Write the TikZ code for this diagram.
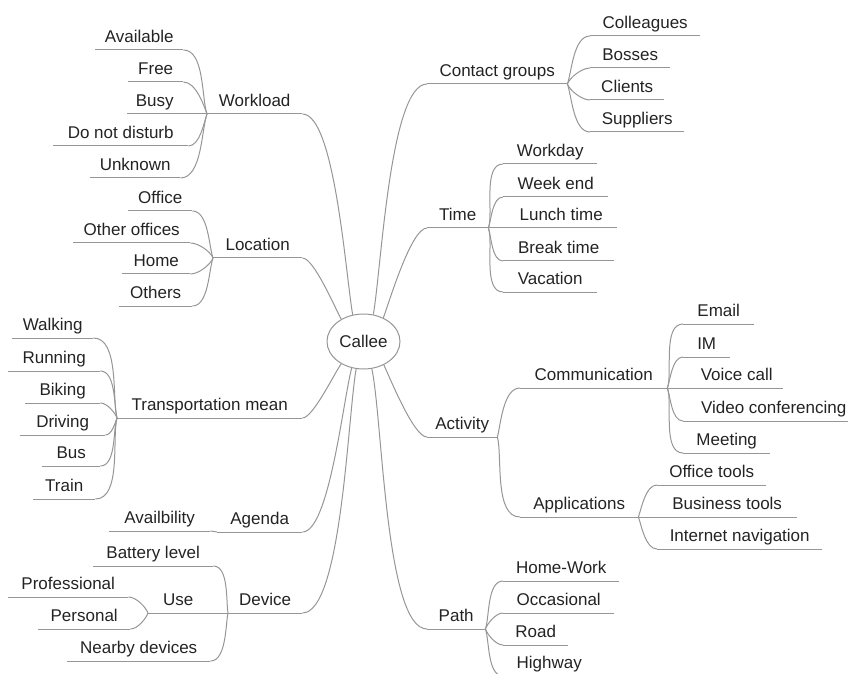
\documentclass[tikz,border=0pt]{standalone}
\usepackage{fontspec}
\setmainfont{Liberation Sans}
\usepackage{tikz}
\usetikzlibrary{shapes.geometric, positioning, calc}
\definecolor{colorLine}{RGB}{150, 150, 150}
\definecolor{colorText}{RGB}{35, 35, 35}
\tikzstyle{root} = [ellipse, draw=colorLine, line width=1pt, minimum width=73pt, minimum height=55pt, inner sep=0pt, text=colorText]
\tikzstyle{topic} = [anchor=south west, inner xsep=0pt, inner ysep=7pt, text depth=0pt, text=colorText]
\tikzstyle{underline} = [draw=colorLine, line width=1pt]
\tikzstyle{branch} = [draw=colorLine, line width=1pt, out looseness=0.5, in looseness=0.4]
\tikzstyle{twig} = [draw=colorLine, line width=1pt, out looseness=0.6, in looseness=0.8]

\begin{document}
\begin{tikzpicture}[x=1pt, y=1pt, font=\fontsize{17}{20}\selectfont]

		\useasboundingbox (0,0) rectangle (848,673);
		\clip (0,0) rectangle (848,673);

		% root
		\node (callee)[root] at (363.5,331.5) {Callee};

		% workload
		\node (workload)[topic, minimum width=95pt] at (207,559) {Workload};
		\node (available)[topic, minimum width=88pt] at (95,623) {Available};
		\node (free)[topic, minimum width=55pt] at (128,591) {Free};
		\node (busy)[topic, minimum width=55pt] at (127,559) {Busy};
		\node (dnd)[topic, minimum width=135pt] at (53,527) {Do not disturb};
		\node (unknown)[topic, minimum width=90pt] at (90,495) {Unknown};

		% location
		\node (location)[topic, minimum width=89pt] at (213,415) {Location};
		\node (office)[topic, minimum width=64pt] at (128,462) {Office};
		\node (otherOffices)[topic, minimum width=117pt] at (73,430) {Other offices};
		\node (home)[topic, minimum width=68pt] at (122,399) {Home};
		\node (others)[topic, minimum width=73pt] at (119,367) {Others};

		% transportation mean
		\node (transport)[topic, minimum width=185pt] at (117,255) {Transportation mean};
		\node (walking)[topic, minimum width=81pt] at (12,335) {Walking};
		\node (running)[topic, minimum width=92pt] at (8,302) {Running};
		\node (biking)[topic, minimum width=75pt] at (25,270) {Biking};
		\node (driving)[topic, minimum width=85pt] at (20,238) {Driving};
		\node (bus)[topic, minimum width=58pt] at (42,207) {Bus};
		\node (train)[topic, minimum width=62pt] at (33,174) {Train};

		% agenda
		\node (agenda)[topic, minimum width=85pt] at (217,141) {Agenda};
		\node (availbility)[topic, minimum width=101pt] at (109,142) {Availbility};

		% device
		\node (device)[topic, minimum width=74pt] at (228,60) {Device};
		\node (battery)[topic, minimum width=120pt] at (93,107) {Battery level};
		\node (use)[topic, minimum width=60pt] at (148,60) {Use};
		\node (professional)[topic, minimum width=120pt] at (8,76) {Professional};
		\node (personal)[topic, minimum width=92pt] at (38,44) {Personal};
		\node (nearby)[topic, minimum width=143pt] at (67,12) {Nearby devices};

		% contact groups
		\node (contact)[topic, minimum width=140pt] at (427,589) {Contact groups};
		\node (colleagues)[topic, minimum width=110pt] at (590,637) {Colleagues};
		\node (bosses)[topic, minimum width=80pt] at (590,605) {Bosses};
		\node (clients)[topic, minimum width=74pt] at (590,573) {Clients};
		\node (suppliers)[topic, minimum width=94pt] at (590,541) {Suppliers};

		% time
		\node (time)[topic, minimum width=61pt] at (427,445) {Time};
		\node (workday)[topic, minimum width=94pt] at (503,509) {Workday};
		\node (weekend)[topic, minimum width=105pt] at (503,476) {Week end};
		\node (lunch)[topic, minimum width=112pt] at (505,445) {Lunch time};
		\node (breakTime)[topic, minimum width=111pt] at (503,412) {Break time};
		\node (vacation)[topic, minimum width=94pt] at (503,381) {Vacation};

		% activity
		\node (activity)[topic, minimum width=70pt] at (427,236) {Activity};
		\node (communication)[topic, minimum width=147pt] at (520,285) {Communication};
		\node (email)[topic, minimum width=71pt] at (683,349) {Email};
		\node (im)[topic, minimum width=47pt] at (683,316) {IM};
		\node (voice)[topic, minimum width=93pt] at (690,285) {Voice call};
		\node (video)[topic, minimum width=181pt] at (683,252) {Video conferencing};
		\node (meeting)[topic, minimum width=87pt] at (683,220) {Meeting};
		\node (applications)[topic, minimum width=118pt] at (520,156) {Applications};
		\node (officeTools)[topic, minimum width=109pt] at (657,188) {Office tools};
		\node (business)[topic, minimum width=140pt] at (657,156) {Business tools};
		\node (internet)[topic, minimum width=165pt] at (657,124) {Internet navigation};

		% path
		\node (travelPath)[topic, minimum width=58pt] at (427,44) {Path};
		\node (homeWork)[topic, minimum width=116pt] at (503,92) {Home-Work};
		\node (occasional)[topic, minimum width=111pt] at (503,60) {Occasional};
		\node (road)[topic, minimum width=65pt] at (503,28) {Road};
		\node (highway)[topic, minimum width=92pt] at (503,-3) {Highway};

		% underlines
		\foreach \n in {workload, available, free, busy, dnd, unknown, location, office, otherOffices, home, others, transport, walking, running, biking, driving, bus, train, agenda, availbility, device, battery, use, professional, personal, nearby, contact, colleagues, bosses, clients, suppliers, time, workday, weekend, lunch, breakTime, vacation, activity, communication, email, im, voice, video, meeting, applications, officeTools, business, internet, travelPath, homeWork, occasional, road, highway}
			\draw[underline] (\n.south west) -- (\n.south east);

		% main branches
		\draw[branch] (callee.112) to[out=100, in=0] (workload.south east);
		\draw[branch] (callee.135) to[out=118, in=0] (location.south east);
		\draw[branch] (callee.225) to[out=235, in=0] (transport.south east);
		\draw[branch] (callee.246) to[out=255, in=0] (agenda.south east);
		\draw[branch] (callee.255) to[out=260, in=0] (device.south east);
		\draw[branch] (callee.70) to[out=80, in=180] (contact.south west);
		\draw[branch] (callee.50) to[out=70, in=180] (time.south west);
		\draw[branch] (callee.311) to[out=295, in=180] (activity.south west);
		\draw[branch] (callee.287) to[out=282, in=180] (travelPath.south west);

		% workload
		\draw[twig] (workload.south west) to[out=110, in=0] (available.south east);
		\draw[twig] (workload.south west) to[out=110, in=0] (free.south east);
		\draw[twig] (workload.south west) -- (busy.south east);
		\draw[twig] (workload.south west) to[out=250, in=0] (dnd.south east);
		\draw[twig] (workload.south west) to[out=250, in=0] (unknown.south east);

		% location
		\draw[twig] (location.south west) to[out=110, in=0] (office.south east);
		\draw[twig] (location.south west) to[out=110, in=0] (otherOffices.south east);
		\draw[twig] (location.south west) to[out=250, in=0] (home.south east);
		\draw[twig] (location.south west) to[out=250, in=0] (others.south east);

		% transportation mean
		\draw[twig] (transport.south west) to[out=105, in=0] (walking.south east);
		\draw[twig] (transport.south west) to[out=105, in=0] (running.south east);
		\draw[twig] (transport.south west) to[out=110, in=0] (biking.south east);
		\draw[twig] (transport.south west) to[out=250, in=0] (driving.south east);
		\draw[twig] (transport.south west) to[out=250, in=0] (bus.south east);
		\draw[twig] (transport.south west) to[out=255, in=0] (train.south east);

		% agenda, device
		\draw[twig] (agenda.south west) to[out=180, in=0] (availbility.south east);
		\draw[twig] (device.south west) to[out=100, in=0] (battery.south east);
		\draw[twig] (device.south west) -- (use.south east);
		\draw[twig] (device.south west) to[out=258, in=0] (nearby.south east);
		\draw[twig] (use.south west) to[out=110, in=0] (professional.south east);
		\draw[twig] (use.south west) to[out=250, in=0] (personal.south east);

		% contact groups
		\draw[twig] (contact.south east) to[out=70, in=180] (colleagues.south west);
		\draw[twig] (contact.south east) to[out=70, in=180] (bosses.south west);
		\draw[twig] (contact.south east) to[out=290, in=180] (clients.south west);
		\draw[twig] (contact.south east) to[out=290, in=180] (suppliers.south west);

		% time
		\draw[twig] (time.south east) to[out=70, in=180] (workday.south west);
		\draw[twig] (time.south east) to[out=70, in=180] (weekend.south west);
		\draw[twig] (time.south east) -- (lunch.south west);
		\draw[twig] (time.south east) to[out=290, in=180] (breakTime.south west);
		\draw[twig] (time.south east) to[out=290, in=180] (vacation.south west);

		% activity
		\draw[twig] (activity.south east) to[out=75, in=180] (communication.south west);
		\draw[twig] (activity.south east) to[out=285, in=180] (applications.south west);
		\draw[twig] (communication.south east) to[out=70, in=180] (email.south west);
		\draw[twig] (communication.south east) to[out=70, in=180] (im.south west);
		\draw[twig] (communication.south east) -- (voice.south west);
		\draw[twig] (communication.south east) to[out=290, in=180] (video.south west);
		\draw[twig] (communication.south east) to[out=290, in=180] (meeting.south west);
		\draw[twig] (applications.south east) to[out=70, in=180] (officeTools.south west);
		\draw[twig] (applications.south east) -- (business.south west);
		\draw[twig] (applications.south east) to[out=290, in=180] (internet.south west);

		% path
		\draw[twig] (travelPath.south east) to[out=70, in=180] (homeWork.south west);
		\draw[twig] (travelPath.south east) to[out=70, in=180] (occasional.south west);
		\draw[twig] (travelPath.south east) to[out=290, in=180] (road.south west);
		\draw[twig] (travelPath.south east) to[out=290, in=180] (highway.south west);

	\end{tikzpicture}
\end{document}
